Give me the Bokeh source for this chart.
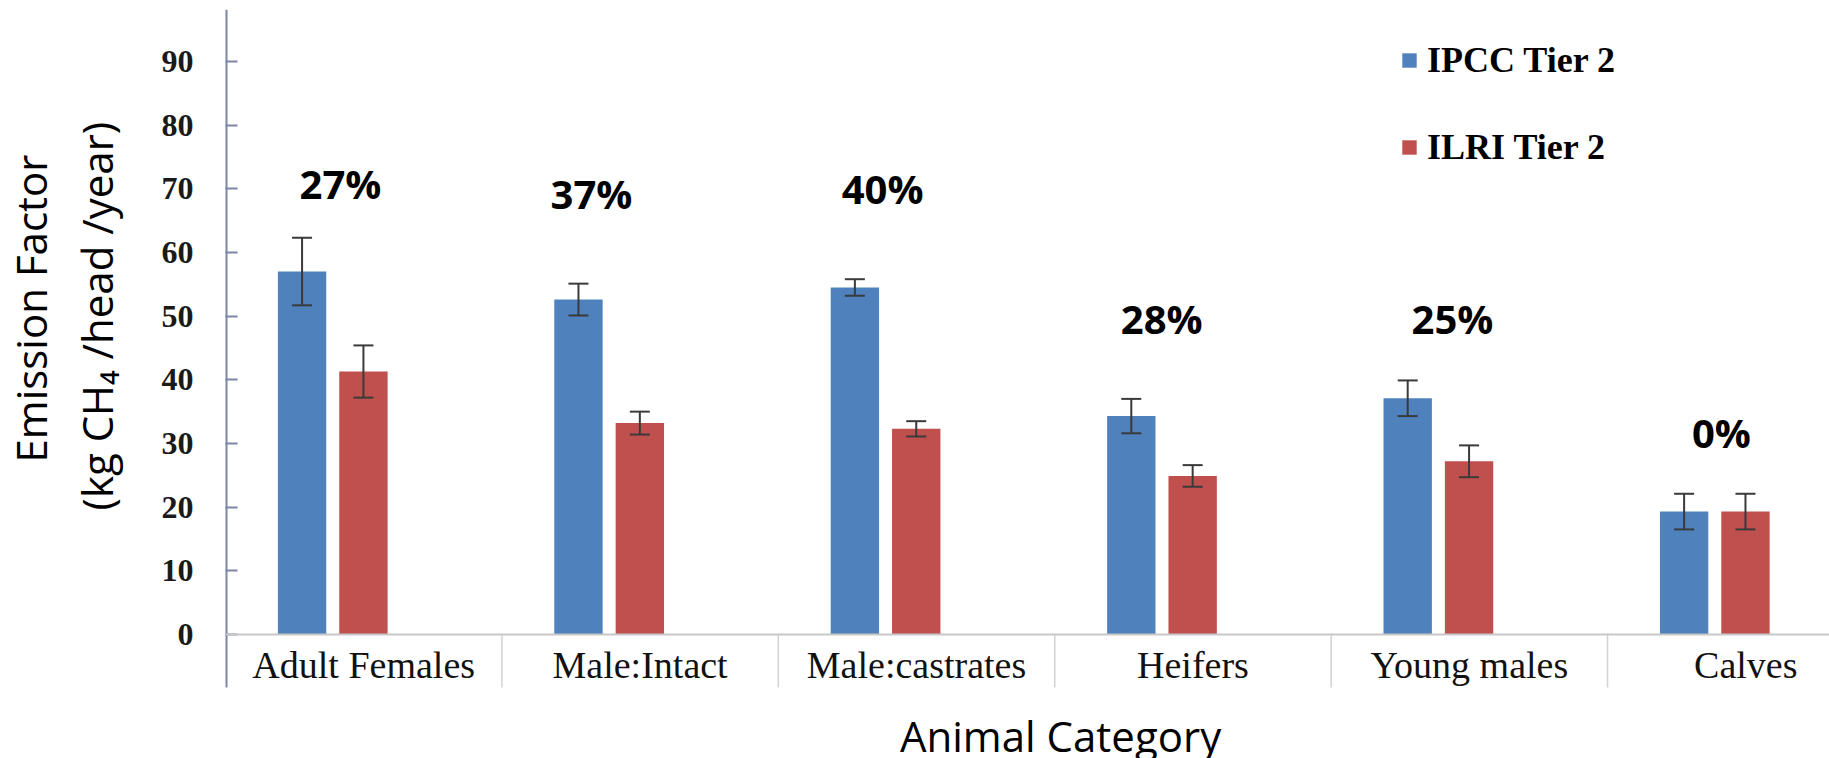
from bokeh.plotting import figure
from bokeh.models import (Range1d, FixedTicker, Whisker, TeeHead, ColumnDataSource,
                          Span, Title, Legend, LegendItem)
from bokeh.core.properties import value
from bokeh.embed import file_html
from bokeh.resources import INLINE

# ---- data ----
categories = ["Adult Females", "Male:Intact", "Male:castrates", "Heifers", "Young males", "Calves"]
series_names = ["IPCC Tier 2", "ILRI Tier 2"]
ipcc = [57.0, 52.6, 54.5, 34.3, 37.1, 19.3]
ipcc_err = [5.3, 2.5, 1.3, 2.7, 2.8, 2.8]
ilri = [41.3, 33.2, 32.3, 24.9, 27.2, 19.3]
ilri_err = [4.1, 1.8, 1.2, 1.7, 2.5, 2.8]
pct_labels = ["27%", "37%", "40%", "28%", "25%", "0%"]
y_ticks = [0, 10, 20, 30, 40, 50, 60, 70, 80, 90]
y_title = ["Emission Factor", "(kg CH\u2084 /head /year)"]
x_title = "Animal Category"

# ---- layout (positions of annotations within each category) ----
pct_x_in_cat = [0.416, 0.324, 0.377, 0.387, 0.439, 0.412]
pct_y = [70.8, 69.3, 70.1, 49.6, 49.6, 31.7]

BLUE = "#4F81BD"
RED = "#C0504D"
AXIS_COLOR = "#7b86a6"
Y_MIN, Y_MAX = -19.48, 98.16      # frame reaches the bottom of the canvas
Y_AXIS_BOTTOM = -8.32             # where the drawn axis line / label box ends
X_MAX = 5.803
blue_off, red_off, bar_w = 0.277, 0.499, 0.175

idx = list(range(len(categories)))

p = figure(width=1829, height=758,
           x_range=Range1d(0, X_MAX), y_range=Range1d(Y_MIN, Y_MAX),
           x_axis_type=None, output_backend="svg", toolbar_location=None,
           min_border_left=225, min_border_right=0, min_border_top=9, min_border_bottom=0)
p.outline_line_color = None
p.grid.visible = False
p.background_fill_color = "white"
p.border_fill_color = "white"

src = ColumnDataSource(dict(
    xb=[i + blue_off for i in idx], xr=[i + red_off for i in idx],
    ipcc=ipcc, ilri=ilri,
    ipcc_lo=[v - e for v, e in zip(ipcc, ipcc_err)], ipcc_hi=[v + e for v, e in zip(ipcc, ipcc_err)],
    ilri_lo=[v - e for v, e in zip(ilri, ilri_err)], ilri_hi=[v + e for v, e in zip(ilri, ilri_err)],
))

rb = p.vbar(x="xb", top="ipcc", bottom=0, width=bar_w, source=src, fill_color=BLUE, line_color=None)
rr = p.vbar(x="xr", top="ilri", bottom=0, width=bar_w, source=src, fill_color=RED, line_color=None)

for base, lo, hi in (("xb", "ipcc_lo", "ipcc_hi"), ("xr", "ilri_lo", "ilri_hi")):
    w = Whisker(base=base, lower=lo, upper=hi, source=src, level="overlay",
                line_color="#3a3a3a", line_width=2,
                upper_head=TeeHead(size=20, line_color="#3a3a3a", line_width=2),
                lower_head=TeeHead(size=20, line_color="#3a3a3a", line_width=2))
    p.add_layout(w)

# x axis line at zero and category separators (including the y axis line itself)
p.add_layout(Span(location=0, dimension="width", line_color="#c8c8c8", line_width=2))
p.segment(x0=idx[1:], y0=[0] * (len(idx) - 1), x1=idx[1:], y1=[Y_AXIS_BOTTOM] * (len(idx) - 1),
          line_color="#d2d2d2", line_width=1.5)
p.segment(x0=[0], y0=[Y_AXIS_BOTTOM], x1=[0], y1=[Y_MAX], line_color=AXIS_COLOR, line_width=4)

# category labels
p.text(x=[i + 0.5 for i in idx], y=[-4.87] * len(idx), text=categories,
       text_font=value("Liberation Serif"), text_font_size="38px",
       text_align="center", text_baseline="middle", text_color="#111111")

# percent labels
p.text(x=[i + o for i, o in zip(idx, pct_x_in_cat)], y=pct_y, text=pct_labels,
       text_font=value("Open Sans"), text_font_size="40px", text_font_style="bold",
       text_align="center", text_baseline="middle", text_color="#000000")

# x axis title
p.text(x=[3.021], y=[-15.9], text=[x_title],
       text_font=value("Open Sans"), text_font_size="42px",
       text_align="center", text_baseline="middle", text_color="#000000")

# y axis
ya = p.yaxis[0]
ya.ticker = FixedTicker(ticks=y_ticks)
ya.axis_line_color = None
ya.major_tick_line_color = AXIS_COLOR
ya.major_tick_line_width = 2
ya.major_tick_in = 12
ya.major_tick_out = 0
ya.minor_tick_in = 0
ya.minor_tick_out = 0
ya.major_label_standoff = 32
ya.major_label_text_font = "Liberation Serif"
ya.major_label_text_font_style = "bold"
ya.major_label_text_font_size = "32px"
ya.major_label_text_color = "#1a1a1a"

# y axis title as two rotated lines (inner line closest to the axis)
p.add_layout(Title(text=y_title[1], align="left", offset=248, vertical_align="bottom",
                   text_font="Open Sans", text_font_size="42px", text_font_style="normal",
                   text_color="#000000", standoff=68), "left")
p.add_layout(Title(text=y_title[0], align="left", offset=296, vertical_align="bottom",
                   text_font="Open Sans", text_font_size="42px", text_font_style="normal",
                   text_color="#000000", standoff=-54), "left")

legend = Legend(items=[LegendItem(label=series_names[0], renderers=[rb]),
                       LegendItem(label=series_names[1], renderers=[rr])],
                location=(1175, 590), orientation="vertical",
                glyph_width=18, glyph_height=18, label_height=40, spacing=45,
                label_standoff=9, padding=0, margin=0,
                border_line_color=None, background_fill_alpha=0,
                label_text_font="Liberation Serif", label_text_font_style="bold",
                label_text_font_size="36px", label_text_color="#000000",
                label_text_baseline="middle")
p.add_layout(legend)

open("out.html", "w").write(file_html(p, INLINE))
